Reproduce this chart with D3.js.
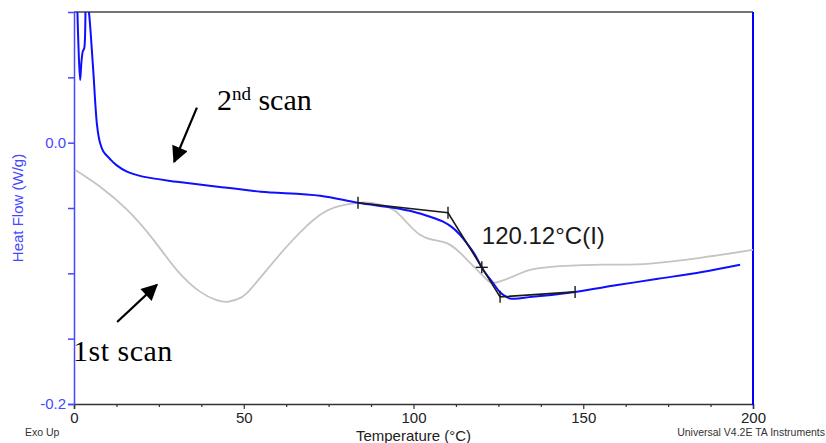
<!DOCTYPE html>
<html><head><meta charset="utf-8">
<script src="https://cdn.jsdelivr.net/npm/d3@7"></script>
<style>body{margin:0;background:#fff;} svg{display:block;}</style>
</head><body>
<script>
// ---- data ----
const xTicksMajor = [0, 50, 100, 150, 200];
const xTicksMinor = [12.5, 25, 37.5, 62.5, 75, 87.5, 112.5, 125, 137.5, 162.5, 175, 187.5];
const yTicksMajor = [0.0, -0.2];
const yTicksMinor = [0.05, -0.05, -0.1, -0.15];

// 2nd scan (blue)
const scan2T  = [0.9, 1.3, 1.8, 2.2, 2.6, 3.0, 3.6, 4.4, 5.6, 6.8, 7.6, 8.6, 10.6, 12.5, 15.6, 20.3, 30.3, 45.1, 55.0, 72.5, 83.6, 94.0, 100.0, 104.9, 108.7, 111.5, 113.7, 116.0, 118.1, 120.5, 123.4, 125.5, 128.4, 135.0, 147.6, 160.0, 172.0, 185.0, 196.2];
const scan2HF = [0.11, 0.075, 0.048, 0.062, 0.07, 0.072, 0.115, 0.10, 0.058, 0.013, 0.0005, -0.0065, -0.0125, -0.0172, -0.0222, -0.026, -0.0299, -0.0345, -0.0375, -0.0406, -0.046, -0.0498, -0.0528, -0.0567, -0.0605, -0.065, -0.0705, -0.078, -0.0858, -0.0973, -0.1073, -0.1145, -0.1192, -0.1180, -0.1142, -0.1090, -0.1042, -0.0990, -0.0935];

// 1st scan (gray)
const scan1T  = [0.3, 7.7, 15.6, 23.3, 30.3, 37.1, 42.0, 45.1, 48.0, 51.0, 56.8, 64.5, 72.5, 78.4, 83.4, 88.1, 94.0, 98.1, 101.9, 105.7, 110.8, 115.8, 119.6, 122.5, 125.5, 130.5, 135.2, 143.1, 149.9, 159.9, 169.7, 184.4, 200.0];
const scan1HF = [-0.0207, -0.0337, -0.0513, -0.0740, -0.0975, -0.1140, -0.1205, -0.1218, -0.1200, -0.1149, -0.0973, -0.0743, -0.0552, -0.0483, -0.046, -0.0462, -0.0513, -0.0613, -0.0705, -0.0743, -0.0782, -0.0897, -0.0996, -0.1068, -0.1062, -0.1011, -0.0968, -0.0945, -0.0937, -0.0933, -0.0925, -0.0881, -0.082];

// glass transition analysis (black)
const tgT  = [83.65, 110.16, 125.5, 147.6];
const tgHF = [-0.046, -0.0536, -0.118, -0.1142];
const tgMidT = 120.12;
const tgLabel = "120.12°C(I)";

// annotations (data units)
const arrow2 = {x1: 36.2, y1: 0.0268, x2: 29.5, y2: -0.0146};
const arrow1 = {x1: 12.7, y1: -0.1372, x2: 24.4, y2: -0.1088};
const text2 = {x: 42.1, y: 0.0253};
const text1 = {x: -0.3, y: -0.167};

// ---- layout ----
const W = 826, H = 443;
const L = 74, R = 753, T = 12, B = 404;
const blueAxis = "#4747ff", blueLine = "#0f0fff";

const svg = d3.select("body").append("svg").attr("width", W).attr("height", H)
  .style("font-family", "'Liberation Sans', Arial, sans-serif");

const x = d3.scaleLinear().domain([0, 200]).range([L, R]);
const y = d3.scaleLinear().domain([-0.2, 0.1]).range([B, T]);

svg.append("defs").append("clipPath").attr("id", "clip")
  .append("rect").attr("x", L).attr("y", T).attr("width", R - L).attr("height", B - T);
const mk = svg.select("defs").append("marker").attr("id", "ah")
  .attr("viewBox", "0 0 10 10").attr("refX", 9).attr("refY", 5)
  .attr("markerWidth", 8).attr("markerHeight", 7.5).attr("markerUnits", "strokeWidth")
  .attr("orient", "auto");
mk.append("path").attr("d", "M0,0 L10,5 L0,10 Z").attr("fill", "#000");

// frame: top spine
svg.append("line").attr("x1", L).attr("x2", R).attr("y1", T).attr("y2", T)
  .attr("stroke", "#444").attr("stroke-width", 1.5);

// bottom axis
const xAxis = svg.append("g").attr("transform", `translate(0,${B})`)
  .call(d3.axisBottom(x).tickValues(xTicksMajor).tickFormat(d3.format("d")).tickSize(5).tickPadding(3));
xAxis.select(".domain").attr("stroke", "#333").attr("stroke-width", 1.5);
xAxis.selectAll(".tick line").attr("stroke", "#333").attr("stroke-width", 1.2);
xAxis.selectAll(".tick text").attr("font-size", 15).attr("fill", "#222");
const xMinor = svg.append("g").attr("transform", `translate(0,${B})`)
  .call(d3.axisBottom(x).tickValues(xTicksMinor).tickFormat("").tickSize(3));
xMinor.select(".domain").remove();
xMinor.selectAll(".tick line").attr("stroke", "#333").attr("stroke-width", 1.2);

// left axis
const yAxis = svg.append("g").attr("transform", `translate(${L},0)`)
  .call(d3.axisLeft(y).tickValues(yTicksMajor).tickFormat(d3.format(".1f")).tickSize(6).tickPadding(2));
yAxis.select(".domain").attr("stroke", blueAxis).attr("stroke-width", 1.5);
yAxis.selectAll(".tick line").attr("stroke", blueAxis).attr("stroke-width", 1.5);
yAxis.selectAll(".tick text").attr("font-size", 15).attr("fill", blueAxis)
  .text(d => d === 0 ? "0.0" : d3.format(".1f")(d).replace("−", "-"));
const yMinor = svg.append("g").attr("transform", `translate(${L},0)`)
  .call(d3.axisLeft(y).tickValues(yTicksMinor).tickFormat("").tickSize(6));
yMinor.select(".domain").remove();
yMinor.selectAll(".tick line").attr("stroke", blueAxis).attr("stroke-width", 1.5);

// right spine
svg.append("line").attr("x1", R).attr("x2", R).attr("y1", T).attr("y2", B + 1)
  .attr("stroke", "#0000ff").attr("stroke-width", 2);

// axis titles
svg.append("text").attr("transform", `translate(23,${(T + B) / 2}) rotate(-90)`)
  .attr("text-anchor", "middle").attr("font-size", 15).attr("fill", blueAxis).text("Heat Flow (W/g)");
svg.append("text").attr("x", (L + R) / 2).attr("y", 441).attr("text-anchor", "middle")
  .attr("font-size", 15).attr("fill", "#222").text("Temperature (°C)");
svg.append("text").attr("x", 25).attr("y", 436).attr("font-size", 10.5).attr("fill", "#333").text("Exo Up");
svg.append("text").attr("x", 825).attr("y", 436).attr("text-anchor", "end")
  .attr("font-size", 10.5).attr("fill", "#333").text("Universal V4.2E TA Instruments");

// curves
const lineC = d3.line().x(d => x(d[0])).y(d => y(d[1])).curve(d3.curveCatmullRom.alpha(0.5));
const lineN = d3.line().x(d => x(d[0])).y(d => y(d[1])).curve(d3.curveNatural);
const g = svg.append("g").attr("clip-path", "url(#clip)");
g.append("path").datum(d3.zip(scan1T, scan1HF)).attr("d", lineN)
  .attr("fill", "none").attr("stroke", "#c4c4c4").attr("stroke-width", 1.8);
g.append("path").datum(d3.zip(scan2T, scan2HF)).attr("d", lineC)
  .attr("fill", "none").attr("stroke", blueLine).attr("stroke-width", 2);

// analysis lines
const straight = d3.line().x(d => x(d[0])).y(d => y(d[1]));
g.append("path").datum(d3.zip(tgT, tgHF)).attr("d", straight)
  .attr("fill", "none").attr("stroke", "#1a1a1a").attr("stroke-width", 1.6);
svg.selectAll(".tgtick").data(d3.zip(tgT, tgHF)).join("line")
  .attr("x1", d => x(d[0])).attr("x2", d => x(d[0]))
  .attr("y1", d => y(d[1]) - 6).attr("y2", d => y(d[1]) + 6)
  .attr("stroke", "#1a1a1a").attr("stroke-width", 1.4);
const fr = (tgMidT - tgT[1]) / (tgT[2] - tgT[1]);
const midHF = tgHF[1] + fr * (tgHF[2] - tgHF[1]);
svg.append("line").attr("x1", x(tgMidT) - 6).attr("x2", x(tgMidT) + 6)
  .attr("y1", y(midHF)).attr("y2", y(midHF)).attr("stroke", "#1a1a1a").attr("stroke-width", 1.4);
svg.append("line").attr("x1", x(tgMidT)).attr("x2", x(tgMidT))
  .attr("y1", y(midHF) - 6).attr("y2", y(midHF) + 6).attr("stroke", "#1a1a1a").attr("stroke-width", 1.4);
svg.append("text").attr("x", x(tgMidT)).attr("y", y(midHF) - 23)
  .attr("font-size", 24).attr("fill", "#1a1a1a").text(tgLabel);

// annotation arrows & labels
[arrow2, arrow1].forEach(a => {
  svg.append("line").attr("x1", x(a.x1)).attr("y1", y(a.y1)).attr("x2", x(a.x2)).attr("y2", y(a.y2))
    .attr("stroke", "#000").attr("stroke-width", 2.2).attr("marker-end", "url(#ah)");
});
const serif = "'Liberation Serif', 'Times New Roman', serif";
const t2 = svg.append("text").attr("x", x(text2.x)).attr("y", y(text2.y))
  .attr("font-family", serif).attr("font-size", 30).attr("fill", "#000");
t2.append("tspan").text("2");
t2.append("tspan").attr("font-size", 19).attr("dy", -10).text("nd");
t2.append("tspan").attr("dy", 10).text(" scan");
svg.append("text").attr("x", x(text1.x)).attr("y", y(text1.y))
  .attr("font-family", serif).attr("font-size", 30).attr("letter-spacing", 0.5).attr("fill", "#000").text("1st scan");
</script>
</body></html>
